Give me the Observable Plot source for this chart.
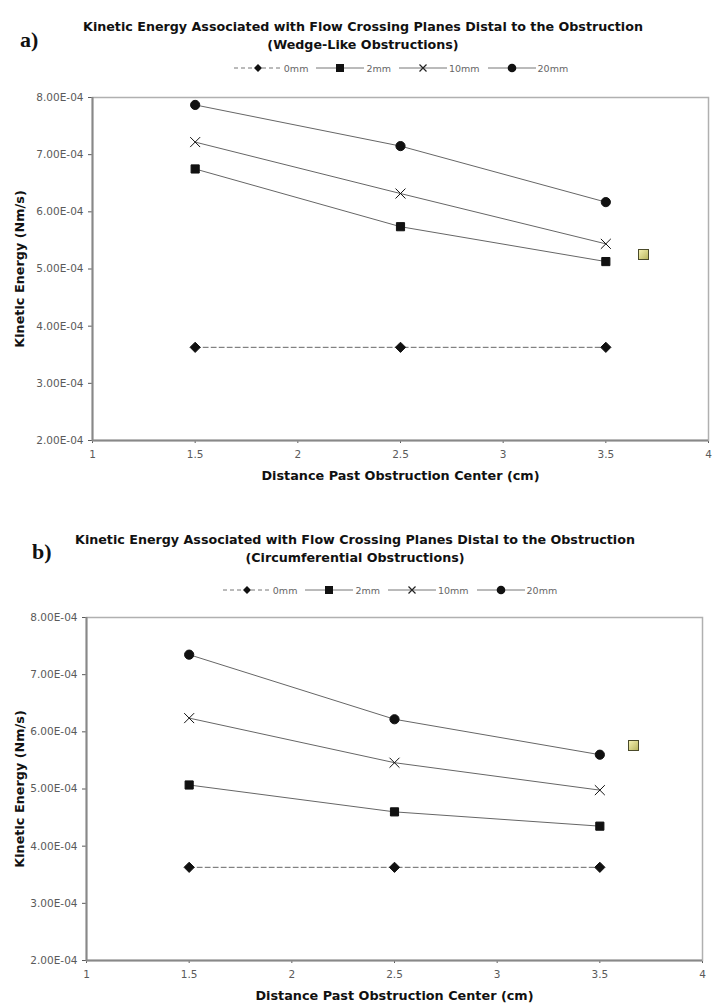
<!DOCTYPE html>
<html><head><meta charset="utf-8">
<script src="https://cdn.jsdelivr.net/npm/d3@7"></script>
<script src="https://cdn.jsdelivr.net/npm/@observablehq/plot@0.6"></script>
<style>
body{margin:0;background:#fff;width:712px;height:1005px;position:relative;overflow:hidden;font-family:"DejaVu Sans",Verdana,sans-serif}
.abs{position:absolute}
.plabel{font-family:"Liberation Serif","Times New Roman",serif;font-weight:bold;font-size:22px;color:#111;line-height:24px}
.title{width:712px;text-align:center;font-weight:bold;font-size:12.7px;color:#111;line-height:18px;white-space:nowrap}
.legend{width:712px;display:flex;justify-content:center;align-items:center;font-size:9.5px;color:#666;height:14px}
.legend .item{display:flex;align-items:center;margin:0 4px}
.legend svg{display:block;margin-right:2px}
.icon{width:9px;height:9px;border:1px solid #4a4a2a;background:linear-gradient(135deg,#f4f0b0,#b9b660)}
svg g[aria-label="x-axis label"] text, svg g[aria-label="y-axis label"] text{font-weight:bold;font-size:12.8px;fill:#111}
</style></head>
<body>
<script>
// ---- data ----
const xPositions = [1.5, 2.5, 3.5];
const seriesNames = ["0mm", "2mm", "10mm", "20mm"];
const xTicks = [1, 1.5, 2, 2.5, 3, 3.5, 4];
const yTicks = [2e-4, 3e-4, 4e-4, 5e-4, 6e-4, 7e-4, 8e-4];
// panel a) wedge-like obstructions
const wedge0mm  = [3.63e-4, 3.63e-4, 3.63e-4];
const wedge2mm  = [6.75e-4, 5.74e-4, 5.13e-4];
const wedge10mm = [7.22e-4, 6.32e-4, 5.44e-4];
const wedge20mm = [7.87e-4, 7.15e-4, 6.17e-4];
// panel b) circumferential obstructions
const circ0mm  = [3.63e-4, 3.63e-4, 3.63e-4];
const circ2mm  = [5.07e-4, 4.60e-4, 4.35e-4];
const circ10mm = [6.24e-4, 5.46e-4, 4.98e-4];
const circ20mm = [7.35e-4, 6.22e-4, 5.60e-4];

const titleLine1 = "Kinetic Energy Associated with Flow Crossing Planes Distal to the Obstruction";
const subtitleA = "(Wedge-Like Obstructions)";
const subtitleB = "(Circumferential Obstructions)";
const xLabel = "Distance Past Obstruction Center (cm)";
const yLabel = "Kinetic Energy (Nm/s)";

function fmt(d) {
  const [m, e] = d.toExponential(2).split("e");
  const n = +e;
  return m + "E" + (n < 0 ? "-" : "+") + String(Math.abs(n)).padStart(2, "0");
}

function rows(vals) {
  const out = [];
  seriesNames.forEach((s, i) => vals[i].forEach((v, j) => out.push({series: s, x: xPositions[j], y: v})));
  return out;
}

function panel(vals, o) {
  const data = rows(vals);
  return Plot.plot({
    width: 712, height: o.height,
    marginLeft: o.ml, marginRight: o.mr, marginTop: 17, marginBottom: o.mb,
    style: {fontFamily: "DejaVu Sans, Verdana, sans-serif", fontSize: "10.5px", color: "#5a5a5a", background: "transparent", overflow: "visible"},
    x: {domain: [1, 4], ticks: xTicks, tickFormat: d => String(d), tickSize: 3, tickPadding: 7,
        label: xLabel, labelAnchor: "center", labelOffset: 39, labelArrow: "none"},
    y: {domain: [2e-4, 8e-4], ticks: yTicks, tickFormat: fmt, tickSize: 4, tickPadding: 5,
        label: yLabel, labelAnchor: "center", labelOffset: o.ml - 14, labelArrow: "none"},
    symbol: {domain: seriesNames, range: ["diamond2", "square", "times", "circle"]},
    marks: [
      Plot.frame({stroke: "#b0b0b0", strokeWidth: 1.5}),
      Plot.ruleY([2e-4], {stroke: "#888", strokeWidth: 2}),
      Plot.ruleX([1], {stroke: "#888", strokeWidth: 2}),
      Plot.line(data.filter(d => d.series !== "0mm"), {x: "x", y: "y", z: "series", stroke: "#666", strokeWidth: 1}),
      Plot.line(data.filter(d => d.series === "0mm"), {x: "x", y: "y", stroke: "#666", strokeWidth: 1, strokeDasharray: "5,3"}),
      Plot.dot(data, {x: "x", y: "y", symbol: "series", fill: "#111", stroke: "#111", strokeWidth: 1, r: 4.6})
    ]
  });
}

function legendEl(left, top) {
  const div = document.createElement("div");
  div.className = "abs legend";
  div.style.left = left + "px"; div.style.top = top + "px";
  const shapes = {
    "0mm": '<path d="M24,2 L28,6 L24,10 L20,6 Z" fill="#111"/>',
    "2mm": '<rect x="20" y="2" width="8" height="8" fill="#111"/>',
    "10mm": '<path d="M20.5,2.5 L27.5,9.5 M27.5,2.5 L20.5,9.5" stroke="#222" stroke-width="1.2"/>',
    "20mm": '<circle cx="24" cy="6" r="4.3" fill="#111"/>'
  };
  seriesNames.forEach(s => {
    const it = document.createElement("div");
    it.className = "item";
    const dash = s === "0mm" ? ' stroke-dasharray="4,3"' : "";
    it.innerHTML = `<svg width="48" height="12"><line x1="0" x2="48" y1="6" y2="6" stroke="#777" stroke-width="1"${dash}/>${shapes[s]}</svg><span>${s}</span>`;
    div.appendChild(it);
  });
  return div;
}

function place(el, left, top) {
  el.classList.add("abs");
  el.style.left = left + "px"; el.style.top = top + "px";
  document.body.appendChild(el);
  return el;
}
function textDiv(cls, html, left, top) {
  const d = document.createElement("div");
  d.className = cls; d.innerHTML = html;
  return place(d, left, top);
}

// Panel a
textDiv("plabel", "a)", 20, 28);
textDiv("title", titleLine1 + "<br>" + subtitleA, 7, 18);
document.body.appendChild(legendEl(45, 61));
place(panel([wedge0mm, wedge2mm, wedge10mm, wedge20mm], {height: 410, ml: 92, mr: 4, mb: 50}), 0, 80);
textDiv("icon", "", 638, 249);

// Panel b
textDiv("plabel", "b)", 32, 540);
textDiv("title", titleLine1 + "<br>" + subtitleB, -1, 531);
document.body.appendChild(legendEl(34, 583));
place(panel([circ0mm, circ2mm, circ10mm, circ20mm], {height: 405, ml: 86, mr: 10, mb: 45}), 0, 600);
textDiv("icon", "", 628, 740);
</script>
</body></html>
